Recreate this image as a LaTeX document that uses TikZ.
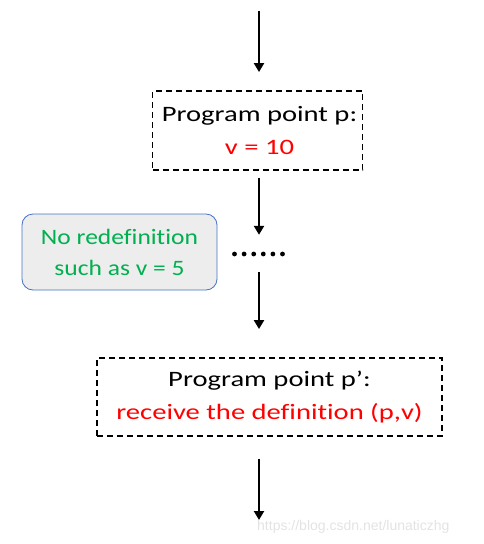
\documentclass[tikz,border=0pt]{standalone}
\usepackage{fontspec}
\setmainfont{Carlito}
\newfontfamily\mainwide[FakeStretch=1.3,Ligatures=NoCommon]{Carlito}
\newfontfamily\greenwide[FakeStretch=1.16,Ligatures=NoCommon]{Carlito}
\newfontfamily\wmfont{Liberation Sans}
\usetikzlibrary{arrows.meta}
\definecolor{cRed}{HTML}{FF0000}
\definecolor{cGreen}{HTML}{00B050}
\definecolor{cBlue}{HTML}{4472C4}
\definecolor{cFill}{HTML}{EDEDED}
\begin{document}
\begin{tikzpicture}[x=1pt,y=-1pt,
  arr/.style={line width=2.4pt,-{Triangle[width=10pt,length=9pt]}},
  dbox/.style={draw,line width=1.9pt,dash pattern=on 6pt off 4pt,align=center,
    font=\mainwide\fontsize{22}{33}\selectfont,inner sep=0pt},
  gbox/.style={draw=cBlue,line width=0.8pt,fill=cFill,rounded corners=11pt,align=center,
    text=cGreen,font=\greenwide\fontsize{22}{31}\selectfont,inner sep=0pt}]
\useasboundingbox (0,0) rectangle (484,544);
\coordinate (top) at (259,11);
\coordinate (bot) at (259,520);
\node[dbox,minimum width=210pt,minimum height=79pt] (b1) at (257.5,130.5)
  {\hspace*{4pt}Program point p:\\ \hspace*{4pt}\textcolor{cRed}{v = 10}};
\node[minimum width=55pt,minimum height=30pt] (dots) at (259,254) {};
\foreach \i in {0,...,5} \fill (234.5+\i*9.6,254) circle (2.4pt);
\node[gbox,minimum width=195pt,minimum height=76pt] (g) at (119.5,252)
  {No redefinition\\ such as v = 5};
\node[dbox,minimum width=345pt,minimum height=78pt] (b3) at (269.5,397)
  {Program point p’:\\ \textcolor{cRed}{receive the definition (p,v)}};
\draw[arr,shorten >=18pt] (top) -- (top |- b1.north);
\draw[arr,shorten <=7pt,shorten >=4pt] (dots.north |- b1.south) -- (dots.north);
\draw[arr,shorten <=3pt,shorten >=28pt] (dots.south) -- (dots.south |- b3.north);
\draw[arr,shorten <=22pt] (bot |- b3.south) -- (bot);
\node[text=gray!22,font=\wmfont\fontsize{14}{14}\selectfont,anchor=west,inner sep=0pt] (wm) at (257,527) {https://blog.csdn.net/lunaticzhg};
\end{tikzpicture}
\end{document}
